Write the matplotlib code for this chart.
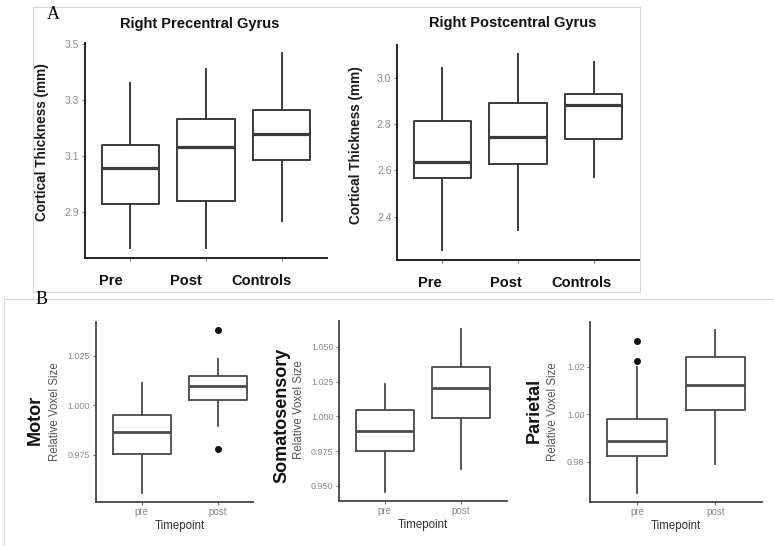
import matplotlib
matplotlib.use("Agg")
import matplotlib.pyplot as plt
from matplotlib.patches import Rectangle
from matplotlib.transforms import ScaledTranslation
from matplotlib.ticker import FormatStrFormatter

plt.rcParams['font.family'] = ['Liberation Sans', 'DejaVu Sans']

# ---------------- data ----------------
groups_a = ["Pre", "Post", "Controls"]

precentral_low = [2.771, 2.771, 2.869]
precentral_q1 = [2.930, 2.939, 3.085]
precentral_med = [3.057, 3.133, 3.179]
precentral_q3 = [3.138, 3.232, 3.265]
precentral_high = [3.361, 3.411, 3.468]

postcentral_low = [2.256, 2.342, 2.573]
postcentral_q1 = [2.569, 2.630, 2.737]
postcentral_med = [2.638, 2.744, 2.884]
postcentral_q3 = [2.816, 2.894, 2.931]
postcentral_high = [3.043, 3.105, 3.072]

timepoints = ["pre", "post"]

motor_low = [0.9559, 0.9896]
motor_q1 = [0.9756, 1.0030]
motor_med = [0.9867, 1.0097]
motor_q3 = [0.9950, 1.0148]
motor_high = [1.0111, 1.0233]
motor_out = [[], [1.0381, 0.9778]]

soma_low = [0.9459, 0.9624]
soma_q1 = [0.9750, 0.9990]
soma_med = [0.9892, 1.0202]
soma_q3 = [1.0048, 1.0353]
soma_high = [1.0235, 1.0625]
soma_out = [[], []]

parietal_low = [0.9667, 0.9790]
parietal_q1 = [0.9824, 1.0020]
parietal_med = [0.9886, 1.0125]
parietal_q3 = [0.9980, 1.0242]
parietal_high = [1.0200, 1.0355]
parietal_out = [[1.0308, 1.0224], []]

ticks_pre = [2.9, 3.1, 3.3, 3.5]
ticks_post = [2.4, 2.6, 2.8, 3.0]
ticks_motor = [0.975, 1.000, 1.025]
ticks_soma = [0.950, 0.975, 1.000, 1.025, 1.050]
ticks_par = [0.98, 1.00, 1.02]

# ---------------- layout helpers ----------------
W, H = 774, 546
fig = plt.figure(figsize=(W / 100, H / 100), dpi=100)
fig.patch.set_facecolor('white')


def rect(l, t, r, b):
    return [l / W, 1 - b / H, (r - l) / W, (b - t) / H]


def fx(x):
    return x / W


def fy(y):
    return 1 - y / H


def make_stats(low, q1, med, q3, high, out=None):
    st = []
    for i in range(len(med)):
        st.append(dict(whislo=low[i], q1=q1[i], med=med[i], q3=q3[i],
                       whishi=high[i], fliers=(out[i] if out else [])))
    return st


def draw_box(ax, stats, line_col, lw, mlw):
    ax.bxp(stats, positions=list(range(1, len(stats) + 1)), widths=0.76,
           showcaps=False, showfliers=True, patch_artist=False,
           boxprops=dict(color=line_col, linewidth=lw),
           whiskerprops=dict(color=line_col, linewidth=lw),
           medianprops=dict(color=line_col, linewidth=mlw),
           flierprops=dict(marker='o', markerfacecolor='#111111',
                           markeredgecolor='#111111', markersize=4))


def style_axes(ax, spine_col, spine_lw, tick_col, lab_col, fs):
    for s in ['top', 'right']:
        ax.spines[s].set_visible(False)
    for s in ['left', 'bottom']:
        ax.spines[s].set_color(spine_col)
        ax.spines[s].set_linewidth(spine_lw)
    ax.tick_params(axis='both', length=2.5, width=0.8, color=tick_col,
                   labelcolor=lab_col, labelsize=fs, pad=1.5)
    ax.set_facecolor('none')


# ---------------- panel borders ----------------
fig.add_artist(Rectangle((fx(33), fy(292)), (640 - 33) / W, (292 - 7) / H,
                         transform=fig.transFigure, fill=False,
                         edgecolor='#d6d6d6', linewidth=0.8, zorder=0))
fig.add_artist(Rectangle((fx(4), fy(560)), (800 - 4) / W, (560 - 299) / H,
                         transform=fig.transFigure, fill=False,
                         edgecolor='#d6d6d6', linewidth=0.8, zorder=0))

fig.text(fx(53.5), fy(14.5), "A", family='Liberation Serif', fontsize=13,
         ha='center', va='center', color='black')
fig.text(fx(41.7), fy(299), "B", family='Liberation Serif', fontsize=13,
         ha='center', va='center', color='black')

# ---------------- panel A ----------------
a_specs = [
    (rect(85, 43, 327, 258), (2.736, 3.503), ticks_pre,
     make_stats(precentral_low, precentral_q1, precentral_med, precentral_q3, precentral_high),
     "Right Precentral Gyrus", 200, 24, 42, 142.5, -20),
    (rect(397, 45, 639, 260), (2.212, 3.144), ticks_post,
     make_stats(postcentral_low, postcentral_q1, postcentral_med, postcentral_q3, postcentral_high),
     "Right Postcentral Gyrus", 513, 23, 356, 145, -12),
]

for (r, yl, yt, stats, title, tx, ty, lx, ly, shift) in a_specs:
    ax = fig.add_axes(r)
    draw_box(ax, stats, '#3a3a3a', 1.4, 2.3)
    ax.set_xlim(0.4, 3.6)
    ax.set_ylim(*yl)
    ax.set_yticks(yt)
    ax.yaxis.set_major_formatter(FormatStrFormatter('%.1f'))
    ax.set_xticks([1, 2, 3], groups_a)
    style_axes(ax, '#222222', 1.4, '#888888', '#8a8a8a', 7.5)
    ax.tick_params(axis='x', labelsize=10.5, labelcolor='#111111', pad=9)
    for lab in ax.get_xticklabels():
        lab.set_fontweight('bold')
        lab.set_transform(lab.get_transform() +
                          ScaledTranslation(shift / 100, 0, fig.dpi_scale_trans))
    fig.text(fx(tx), fy(ty), title, fontsize=10.5, fontweight='bold',
             ha='center', va='center', color='#111111')
    fig.text(fx(lx), fy(ly), "Cortical Thickness (mm)", fontsize=9.8,
             fontweight='bold', rotation=90, ha='center', va='center',
             color='#1a1a1a')

# ---------------- panel B ----------------
b_specs = [
    (rect(95.7, 322.3, 264, 501.7), (0.9514, 1.042), ticks_motor, '%.3f',
     make_stats(motor_low, motor_q1, motor_med, motor_q3, motor_high, motor_out),
     "Motor", 35, 419.5, 55, 411.7, 2.46),
    (rect(339, 320.7, 506.7, 500.7), (0.9394, 1.0687), ticks_soma, '%.3f',
     make_stats(soma_low, soma_q1, soma_med, soma_q3, soma_high, soma_out),
     "Somatosensory", 281.7, 415.5, 299, 410, 2.6),
    (rect(590, 322.3, 762.3, 501.7), (0.9632, 1.0387), ticks_par, '%.2f',
     make_stats(parietal_low, parietal_q1, parietal_med, parietal_q3, parietal_high, parietal_out),
     "Parietal", 534, 410, 553.5, 411.7, 2.6),
]

for (r, yl, yt, fmt, stats, name, nx, ny, lx, ly, xend) in b_specs:
    ax = fig.add_axes(r)
    draw_box(ax, stats, '#4a4a4a', 1.3, 2.0)
    ax.set_xlim(0.4, 2.6)
    ax.set_ylim(*yl)
    ax.set_yticks(yt)
    ax.yaxis.set_major_formatter(FormatStrFormatter(fmt))
    ax.set_xticks([1, 2], timepoints)
    style_axes(ax, '#444444', 1.3, '#777777', '#8a8a8a', 6.5)
    ax.tick_params(axis='x', labelsize=7)
    ax.spines['bottom'].set_bounds(0.4, xend)
    ax.set_xlabel("Timepoint", fontsize=8.3, color='#333333', labelpad=2)
    fig.text(fx(nx), fy(ny), name, fontsize=13, fontweight='bold', rotation=90,
             ha='center', va='center', color='#111111')
    fig.text(fx(lx), fy(ly), "Relative Voxel Size", fontsize=8.3, rotation=90,
             ha='center', va='center', color='#555555')

fig.savefig("out.png", dpi=100, facecolor='white')
